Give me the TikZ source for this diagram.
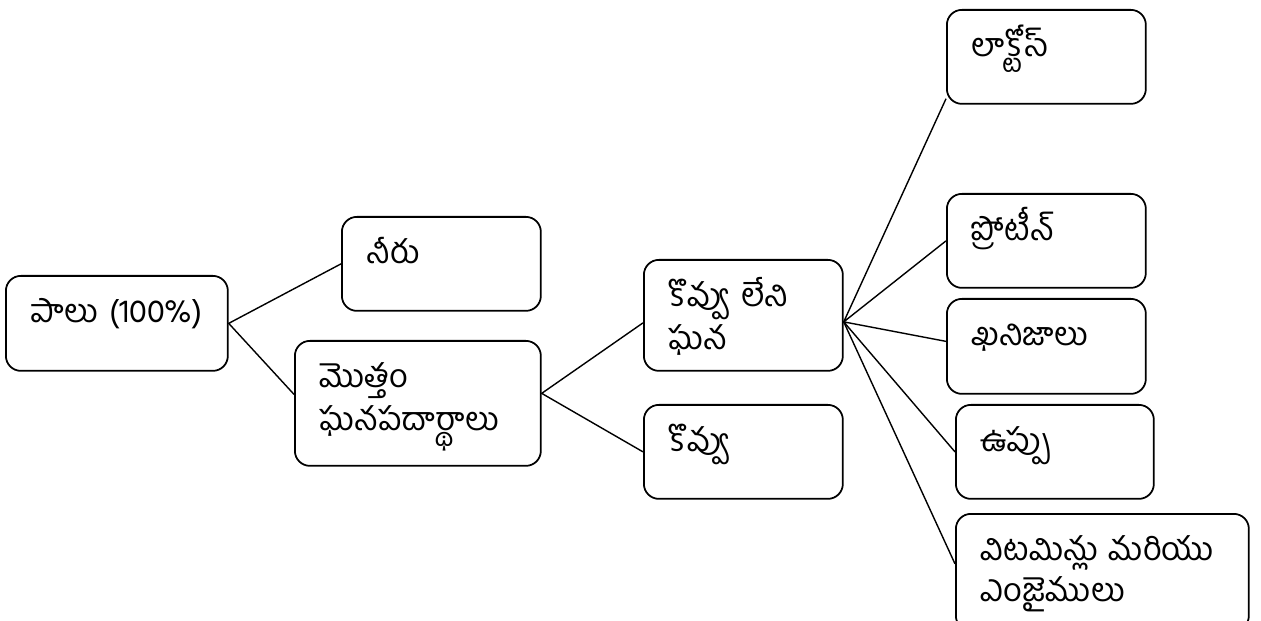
\documentclass[tikz,border=0pt]{standalone}
\usepackage{fontspec}
\setmainfont{Hind Guntur}[Script=Telugu]
\usetikzlibrary{calc, positioning}

\begin{document}
\begin{tikzpicture}[x=.02cm, y=-.02cm, box/.style={draw, line width=1pt, rounded corners=.3cm, anchor=north west, align=left, inner xsep=.5cm, inner ysep=0pt, text height=.94cm, text width=2.98cm, text depth=.94cm, font=\fontsize{18.5}{24}\selectfont}, lnk/.style={line width=.8pt}]
\useasboundingbox (0,0) rectangle (1261,621);
\node[box, text width=3.44cm, text depth=.96cm] (M) at (5,275) {పాలు (100\%)};
\node[box] (W) at (341,216) {నీరు};
\node[box, text width=3.92cm, text depth=1.56cm] (TS) at (294,340) {మొత్తం\\ఘనపదార్థాలు};
\node[box, text depth=1.28cm] (SNF) at (643,259) {కొవ్వు లేని\\ఘన};
\node[box] (F) at (643,404) {కొవ్వు};
\node[box] (L) at (946,9) {లాక్టోస్};
\node[box] (Pr) at (946,193) {ప్రోటీన్};
\node[box, text depth=.96cm] (Mi) at (946,298) {ఖనిజాలు};
\node[box, text width=2.96cm] (Sa) at (955,404) {ఉప్పు};
\node[box, text width=4.86cm, text depth=1.4cm] (V) at (955,513) {విటమిన్లు మరియు\\[-1pt]ఎంజైములు};
\draw[lnk] (W.west) -- (M.east) -- ([yshift=.18cm]TS.west);
\draw[lnk] ([yshift=-.15cm]SNF.west) -- ([yshift=.2cm]TS.east) -- (F.west);
\draw[lnk] ([yshift=.12cm]L.south west) -- ([yshift=-.13cm]SNF.east) -- (Pr.west);
\draw[lnk] ([yshift=.1cm]Mi.west) -- ([yshift=-.13cm]SNF.east) -- (Sa.west);
\draw[lnk] ([yshift=-.13cm]SNF.east) -- ([yshift=.17cm]V.west);
\end{tikzpicture}
\end{document}
